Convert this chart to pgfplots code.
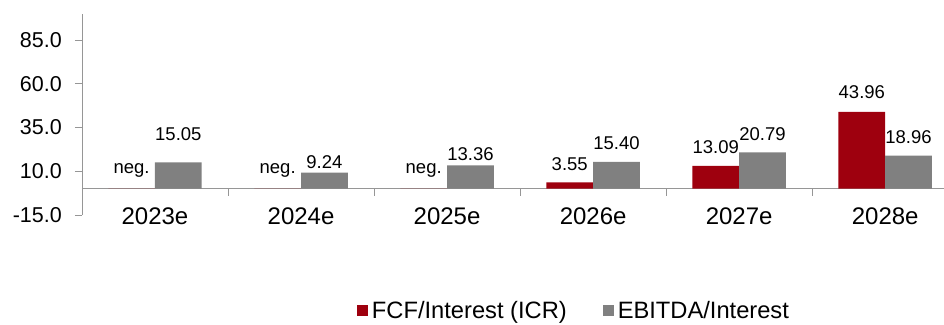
\documentclass[border=0pt]{standalone}
\usepackage{fontspec}
\setmainfont{Liberation Sans}
\usepackage{pgfplots}
\usepackage{pgfplotstable}
\pgfplotsset{compat=1.18}
\definecolor{fcfred}{RGB}{158,0,14}
\definecolor{ebgray}{RGB}{128,128,128}
\definecolor{axgray}{RGB}{150,150,150}

\pgfplotstableread{
x y lab dy
0 0 neg. 11
1 0 neg. 11
2 0 neg. 11
3 3.55 3.55 12
4 13.09 13.09 12
5 43.96 43.96 13
}\fcf
\pgfplotstableread{
x y lab dy
0 15.05 15.05 22
1 9.24 9.24 4
2 13.36 13.36 4
3 15.40 15.40 12
4 20.79 20.79 12
5 18.96 18.96 12
}\ebitda

\begin{document}
\begin{tikzpicture}
\begin{axis}[
  scale only axis, width=862pt, height=201pt,
  xmin=-0.5, xmax=5.4, ymin=-15, ymax=100,
  enlargelimits=false,
  axis y line=left, axis x line=middle,
  axis line style={-, draw=axgray, line width=0.8pt},
  tick align=outside,
  major tick length=7pt,
  tick style={draw=axgray, line width=0.8pt},
  ytick={-15,10,35,60,85},
  yticklabel style={font=\fontsize{21.5}{25}\selectfont, inner sep=0pt, anchor=east, xshift=-13pt},
  /pgf/number format/fixed, /pgf/number format/fixed zerofill,
  /pgf/number format/precision=1, /pgf/number format/assume math mode=true,
  xtick={0.5,1.5,2.5,3.5,4.5}, xticklabels={},
  extra x ticks={0,1,2,3,4,5},
  extra x tick labels={2023e,2024e,2025e,2026e,2027e,2028e},
  extra x tick style={major tick length=0pt},
  x tick label style={font=\fontsize{24}{28}\selectfont, inner sep=0pt, anchor=north, yshift=-19pt},
  ybar=0pt, bar width=0.32,
  point meta=explicit symbolic,
  nodes near coords,
  visualization depends on={\thisrow{dy} \as \dy},
  every node near coord/.append style={font=\fontsize{18.5}{22}\selectfont, inner sep=0pt, anchor=south, yshift=\dy pt, text=black},
  legend style={at={(0.571,-0.478)}, anchor=center, draw=none, fill=none,
    legend columns=2, font=\fontsize{23.7}{28}\selectfont,
    /tikz/every odd column/.append style={column sep=2pt},
    /tikz/every even column/.append style={column sep=34pt}},
  legend image code/.code={\fill[#1] (0pt,-5.5pt) rectangle (11pt,5.5pt);},
  clip=false,
]
\addplot[fill=fcfred, draw=none] table[x=x, y=y, meta=lab] {\fcf};
\addplot[fill=ebgray, draw=none] table[x=x, y=y, meta=lab] {\ebitda};
\legend{FCF/Interest (ICR), EBITDA/Interest}
\coordinate (O) at (rel axis cs:0,0);
\end{axis}
\path (O) ++(-82pt,-107pt) rectangle ++(944pt,322pt);
\end{tikzpicture}
\end{document}
